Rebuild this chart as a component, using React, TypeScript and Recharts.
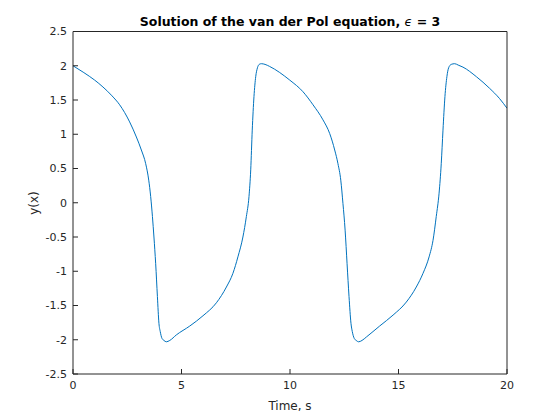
import React from 'react';
import { LineChart, Line, XAxis, YAxis } from 'recharts';

const timeValues = [0, 0.5, 1.0, 1.38, 1.8, 2.15, 2.61, 2.92, 3.15, 3.35, 3.49, 3.58, 3.66, 3.73, 3.81, 3.89, 3.96, 4.02, 4.10, 4.19, 4.30, 4.46, 4.76, 5.38, 5.99, 6.61, 7.07, 7.37, 7.60, 7.83, 7.99, 8.11, 8.19, 8.26, 8.34, 8.42, 8.50, 8.58, 8.68, 8.85, 9.06, 9.99, 10.60, 11.06, 11.52, 11.83, 12.06, 12.21, 12.34, 12.44, 12.54, 12.63, 12.72, 12.81, 12.87, 12.96, 13.05, 13.16, 13.32, 13.52, 14.13, 14.75, 15.36, 15.82, 16.13, 16.41, 16.59, 16.74, 16.87, 16.97, 17.05, 17.14, 17.23, 17.31, 17.43, 17.59, 17.75, 17.97, 18.59, 19.20, 19.66, 20];
const yValues = [2.0, 1.90, 1.79, 1.69, 1.56, 1.43, 1.18, 0.96, 0.77, 0.57, 0.33, 0.09, -0.20, -0.50, -0.89, -1.37, -1.76, -1.88, -1.98, -2.01, -2.03, -2.01, -1.93, -1.80, -1.65, -1.46, -1.23, -1.03, -0.79, -0.50, -0.20, 0.09, 0.48, 1.06, 1.55, 1.84, 1.97, 2.02, 2.03, 2.02, 1.99, 1.79, 1.62, 1.43, 1.21, 1.01, 0.77, 0.57, 0.33, -0.01, -0.40, -0.89, -1.37, -1.76, -1.88, -1.98, -2.01, -2.03, -2.01, -1.96, -1.80, -1.64, -1.45, -1.23, -1.03, -0.79, -0.55, -0.20, 0.14, 0.57, 1.06, 1.55, 1.84, 1.97, 2.02, 2.03, 2.01, 1.98, 1.84, 1.67, 1.52, 1.38];

const xTicks = [0, 5, 10, 15, 20];
const yTicks = [-2.5, -2, -1.5, -1, -0.5, 0, 0.5, 1, 1.5, 2, 2.5];

const data = timeValues.map((t, i) => ({ t, y: yValues[i] }));

const FONT = 'DejaVu Sans';
const AXIS_COLOR = '#262626';
const tickStyle = { fontSize: 11, fill: AXIS_COLOR, fontFamily: FONT };
const axisLine = { stroke: AXIS_COLOR, strokeWidth: 1 };

export default function App() {
  return (
    <div style={{ position: 'absolute', left: 0, top: 0, width: 560, height: 420, background: '#fff' }}>
      <div
        style={{
          position: 'absolute',
          left: 0,
          width: 580,
          top: 14,
          textAlign: 'center',
          fontFamily: FONT,
          fontWeight: 'bold',
          fontSize: 12.5,
          color: '#000',
          lineHeight: '16px',
          whiteSpace: 'nowrap',
        }}
      >
        Solution of the van der Pol equation, <span style={{ fontStyle: 'italic', fontWeight: 'normal' }}>ϵ</span> = 3
      </div>
      <LineChart
        width={560}
        height={420}
        data={data}
        margin={{ top: 30.5, right: 52, bottom: 16, left: 33 }}
      >
        <XAxis
          xAxisId="b"
          dataKey="t"
          type="number"
          domain={[0, 20]}
          ticks={xTicks}
          allowDataOverflow
          height={30}
          tickSize={-5}
          tickMargin={12}
          tick={tickStyle}
          axisLine={axisLine}
          tickLine={axisLine}
          label={{ value: 'Time, s', position: 'bottom', offset: -3, style: { fontSize: 12, fill: AXIS_COLOR, fontFamily: FONT } }}
        />
        <XAxis
          xAxisId="t"
          orientation="top"
          type="number"
          domain={[0, 20]}
          ticks={xTicks}
          allowDataOverflow
          height={1}
          tickSize={-5}
          tick={false}
          axisLine={axisLine}
          tickLine={axisLine}
        />
        <YAxis
          yAxisId="l"
          type="number"
          domain={[-2.5, 2.5]}
          ticks={yTicks}
          allowDataOverflow
          width={40}
          tickSize={-5}
          tickMargin={11}
          tick={tickStyle}
          axisLine={axisLine}
          tickLine={axisLine}
          label={{
            content: () => (
              <text
                x={34}
                y={203}
                transform="rotate(-90 34 203)"
                textAnchor="middle"
                dominantBaseline="central"
                style={{ fontSize: 12, fill: AXIS_COLOR, fontFamily: FONT }}
              >
                y(x)
              </text>
            ),
          }}
        />
        <YAxis
          yAxisId="r"
          orientation="right"
          type="number"
          domain={[-2.5, 2.5]}
          ticks={yTicks}
          allowDataOverflow
          width={1}
          tickSize={-5}
          tick={false}
          axisLine={axisLine}
          tickLine={axisLine}
        />
        <Line
          xAxisId="b"
          yAxisId="l"
          dataKey="y"
          type="monotone"
          stroke="#0072BD"
          strokeWidth={1}
          dot={false}
          isAnimationActive={false}
        />
      </LineChart>
    </div>
  );
}
